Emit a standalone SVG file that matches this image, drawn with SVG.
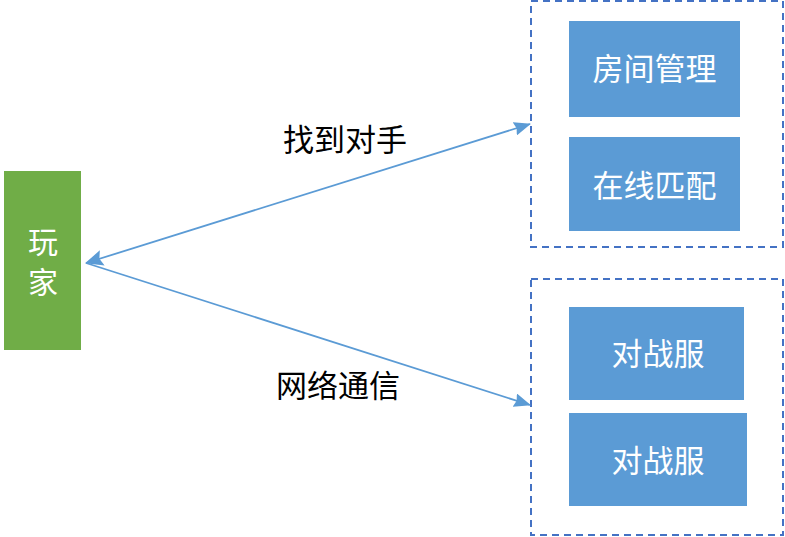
<svg xmlns="http://www.w3.org/2000/svg" width="785" height="537" viewBox="0 0 785 537">
<style>
text{font-family:"Noto Sans CJK SC","Microsoft YaHei",sans-serif;font-size:31px;text-anchor:middle;dominant-baseline:central}
.w{fill:#fff}
.k{fill:#000}
.g{font-size:30px}
.box{fill:#5b9bd5}
.grp{fill:none;stroke:#4472c4;stroke-width:2;stroke-dasharray:7 5}
.ln{stroke:#5b9bd5;stroke-width:1.8;fill:none}
</style>
<defs>
<marker id="ah" markerWidth="17" markerHeight="14" refX="16" refY="7" orient="auto" markerUnits="userSpaceOnUse" viewBox="0 0 17 14">
<path d="M0,0 L17,7 L0,14 L2,7 Z" fill="#5b9bd5"/>
</marker>
<marker id="ahs" markerWidth="18" markerHeight="16" refX="1" refY="8" orient="auto" markerUnits="userSpaceOnUse" viewBox="0 0 18 16">
<path d="M18,0 L0,8 L18,16 L15,8 Z" fill="#5b9bd5"/>
</marker>
</defs>
<rect width="785" height="537" fill="#fff"/>
<g id="group1"><rect class="grp" x="531" y="1" width="252" height="246"/></g>
<g id="group2"><rect class="grp" x="531" y="279" width="252" height="256"/></g>
<g id="player"><rect x="4" y="171" width="77" height="179" fill="#70ad47"/><text class="w g" x="43" y="240">玩</text><text class="w g" x="43" y="280">家</text></g>
<g id="room"><rect class="box" x="569" y="21" width="171" height="96"/><text class="w" x="654.5" y="66">房间管理</text></g>
<g id="match"><rect class="box" x="569" y="137" width="171" height="94"/><text class="w" x="654.5" y="183">在线匹配</text></g>
<g id="battle1"><rect class="box" x="569" y="307" width="175" height="93"/><text class="w" x="658" y="351">对战服</text></g>
<g id="battle2"><rect class="box" x="569" y="413" width="178" height="93"/><text class="w" x="658" y="458">对战服</text></g>
<g id="connectors">
<path class="ln" d="M86,263 L530,124" marker-start="url(#ahs)" marker-end="url(#ah)"/>
<path class="ln" d="M86,263 L530,405" marker-end="url(#ah)"/>
<text class="k" x="345" y="137">找到对手</text>
<text class="k" x="338" y="383">网络通信</text>
</g>
</svg>
